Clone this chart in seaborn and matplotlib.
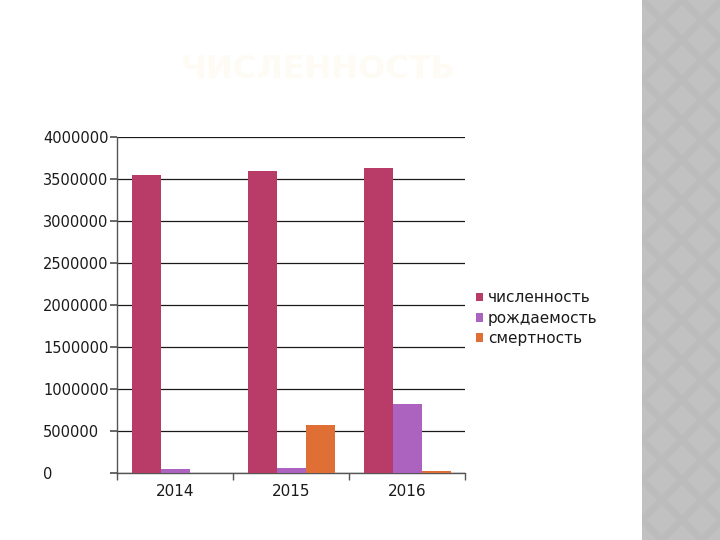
import matplotlib
matplotlib.use("Agg")
import matplotlib.pyplot as plt
import matplotlib.patches as mpatches
import seaborn as sns
import pandas as pd

years = ["2014", "2015", "2016"]
series_names = ["численность", "рождаемость", "смертность"]
chislennost = [3550000, 3590000, 3627000]
rozhdaemost = [52000, 60000, 825000]
smertnost = [0, 567000, 24000]
colors = ["#b93c68", "#ab63bf", "#e06f36"]
yticks = [0, 500000, 1000000, 1500000, 2000000, 2500000, 3000000, 3500000, 4000000]
title = "ЧИСЛЕННОСТЬ"

rows = []
for name, vals in zip(series_names, [chislennost, rozhdaemost, smertnost]):
    for y, v in zip(years, vals):
        rows.append({"year": y, "series": name, "value": v})
df = pd.DataFrame(rows)

sns.set_theme(style="white")
plt.rcParams["font.family"] = ["DejaVu Sans"]

fig = plt.figure(figsize=(7.2, 5.4), dpi=100)
fig.patch.set_facecolor("white")

# right decorative strip
strip_x0 = 642 / 720
fig.patches.append(mpatches.Rectangle((strip_x0, 0), 1 - strip_x0, 1, transform=fig.transFigure,
                                      facecolor="#bcbcbc", edgecolor="none", zorder=-3))
size = 40
for row in range(-1, 30):
    for col in range(-1, 4):
        cx = 642 + col * size + (size / 2 if row % 2 else 0)
        cy = row * size / 2
        if cx < 630:
            continue
        pts = [(cx / 720, (cy + size * 0.38) / 540), ((cx + size * 0.38) / 720, cy / 540),
               (cx / 720, (cy - size * 0.38) / 540), ((cx - size * 0.38) / 720, cy / 540)]
        fig.patches.append(mpatches.Polygon(pts, closed=True, transform=fig.transFigure,
                                            facecolor="#c1c1c1", edgecolor="none", zorder=-2))
fig.patches.append(mpatches.Rectangle((0, 0), strip_x0, 1, transform=fig.transFigure,
                                      facecolor="white", edgecolor="none", zorder=-1))

fig.text(318 / 720, 1 - 70 / 540, title, ha="center", va="center", fontsize=23,
         fontweight="bold", color="#fdfbf3")

ax = fig.add_axes([117 / 720, 1 - 473 / 540, (465 - 117) / 720, (473 - 137) / 540])
ax.set_facecolor("none")
sns.barplot(data=df, x="year", y="value", hue="series", palette=colors, width=0.75,
            ax=ax, saturation=1, edgecolor="none", zorder=3)

ax.set_ylim(0, 4000000)
ax.set_xlim(-0.5, 2.5)
ax.set_yticks(yticks)
ax.set_yticklabels([str(t) for t in yticks], fontsize=10.5, color="#1a1a1a")
for lab in ax.get_yticklabels():
    lab.set_horizontalalignment("left")
ax.yaxis.grid(True, color="#1a1a1a", linewidth=0.9, zorder=0)
ax.set_axisbelow(True)
ax.set_xlabel("")
ax.set_ylabel("")
ax.set_xticks([0, 1, 2])
ax.set_xticklabels(years, fontsize=11, color="#1a1a1a")
ax.set_xticks([-0.5, 0.5, 1.5, 2.5], minor=True)
ax.tick_params(axis="x", which="major", length=0, pad=8)
ax.tick_params(axis="x", which="minor", length=5, color="#555555", direction="out", bottom=True)
ax.tick_params(axis="y", length=5, color="#555555", direction="out", left=True, pad=(117 - 45 - 5) * 0.72)
for s in ["top", "right"]:
    ax.spines[s].set_visible(False)
for s in ["left", "bottom"]:
    ax.spines[s].set_color("#555555")
    ax.spines[s].set_linewidth(1)

leg = ax.legend(loc="upper left", bbox_to_anchor=(1.0, 0.575), frameon=False, fontsize=11,
                handlelength=0.5, handleheight=0.5, handletextpad=0.3, labelspacing=0.35,
                borderaxespad=0.3)
for t in leg.get_texts():
    t.set_color("#1a1a1a")

fig.savefig("out.png", dpi=100, facecolor="white")
